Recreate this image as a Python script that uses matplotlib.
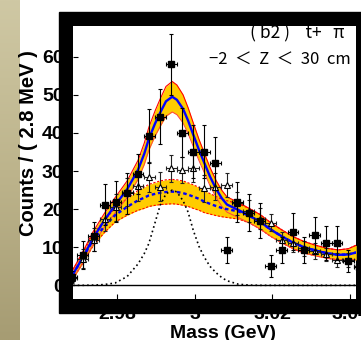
import numpy as np
import matplotlib
matplotlib.use('Agg')
import matplotlib.pyplot as plt
from matplotlib.patches import Rectangle
from matplotlib.colors import LinearSegmentedColormap

plt.rcParams['font.family'] = ['Liberation Sans', 'DejaVu Sans']

# bin centres (GeV), 2.8 MeV bins
mass_bins = [2.9683, 2.9712, 2.9740, 2.9769, 2.9797, 2.9826, 2.9854, 2.9883, 2.9911,
             2.9940, 2.9968, 2.9996, 3.0025, 3.0053, 3.0082, 3.0110, 3.0139, 3.0167,
             3.0196, 3.0224, 3.0253, 3.0281, 3.0309, 3.0338, 3.0366, 3.0395, 3.0423]
bin_half = 0.0014

# filled squares
filled_counts = [2.3, 8.0, 12.9, 21.2, 22.0, 24.2, 29.2, 39.2, 44.3, 58.0, 40.1, 35.1, 35.1,
                 32.0, 9.3, 21.9, 19.1, 17.0, 5.1, 9.3, 14.1, 9.3, 13.2, 11.2, 11.2, 6.4, 4.9]
filled_err = [1.5, 3.7, 3.8, 5.3, 5.3, 5.4, 5.2, 7.2, 7.2, 8.1, 6.5, 7.0, 7.0,
              7.0, 3.5, 5.2, 4.8, 4.6, 2.8, 3.5, 4.8, 3.5, 4.8, 4.5, 4.5, 3.0, 2.6]

# open triangles
open_counts = [1.8, 7.0, 12.0, 17.5, 20.5, 24.5, 26.1, 28.5, 25.9, 30.7, 30.3, 30.7, 25.5,
               25.9, 26.3, 21.5, 19.5, 17.5, 16.4, 11.9, 11.0, 9.7, 9.0, 8.1, 6.6, 6.6, 5.0]
open_err = [1.2, 2.5, 3.0, 3.3, 3.5, 3.8, 4.0, 4.0, 3.8, 3.5, 3.5, 3.5, 3.5,
            3.5, 3.2, 3.0, 3.0, 2.8, 2.2, 2.0, 2.2, 2.0, 2.0, 1.8, 1.8, 1.8, 1.6]

# fit curves
curve_mass = [2.9687, 2.9713, 2.9738, 2.9767, 2.9795, 2.9826, 2.9854, 2.9870, 2.9882,
              2.9898, 2.9911, 2.9926, 2.9942, 2.9954, 2.9970, 2.9983, 2.9996, 3.0011,
              3.0024, 3.0039, 3.0055, 3.0070, 3.0083, 3.0112, 3.0140, 3.0168, 3.0196,
              3.0225, 3.0253, 3.0281, 3.0312, 3.0341, 3.0369, 3.0395, 3.0415]
total_fit = [3.0, 7.5, 12.3, 17.0, 21.0, 25.2, 30.3, 34.5, 38.5, 42.5, 45.3, 48.3, 49.5,
             48.7, 46.3, 43.2, 39.6, 35.5, 32.3, 28.6, 25.3, 22.8, 21.2, 19.8, 18.3, 16.7,
             14.6, 12.8, 11.2, 10.0, 9.1, 8.4, 8.0, 8.1, 8.6]
total_err = [1.2, 1.5, 1.7, 1.8, 2.0, 2.2, 2.5, 2.8, 3.0, 3.3, 3.6, 3.9, 4.0,
             3.9, 3.7, 3.4, 3.1, 2.8, 2.6, 2.4, 2.2, 2.1, 2.0, 2.0, 1.9, 1.9,
             1.8, 1.7, 1.6, 1.5, 1.4, 1.3, 1.3, 1.5, 1.9]
bkg_fit = [3.0, 7.4, 11.8, 15.4, 18.4, 20.6, 22.3, 23.0, 23.6, 24.0, 24.3, 24.5, 24.6,
           24.5, 24.2, 23.8, 23.3, 22.7, 22.0, 21.4, 20.8, 20.3, 20.0, 19.4, 18.3, 16.7,
           14.6, 12.8, 11.2, 10.0, 9.1, 8.4, 8.0, 8.1, 8.6]
bkg_err = [1.2, 1.4, 1.5, 1.6, 1.8, 2.2, 2.6, 2.8, 2.9, 3.0, 3.1, 3.2, 3.2,
           3.2, 3.2, 3.1, 3.1, 3.0, 2.9, 2.7, 2.5, 2.3, 2.2, 2.0, 1.9, 1.9,
           1.8, 1.7, 1.6, 1.5, 1.4, 1.3, 1.3, 1.5, 1.9]
signal_fit = [0, 0, 0.05, 0.2, 0.6, 2.3, 5.6, 8.3, 11.0, 16.5, 21.0, 24.0, 25.0,
              24.5, 22.2, 19.2, 14.5, 10.2, 7.5, 5.0, 3.3, 2.0, 1.2, 0.3, 0.05, 0,
              0, 0, 0, 0, 0, 0, 0, 0, 0]

xticks = [2.98, 3.0, 3.02, 3.04]
xtick_labels = ['2.98', '3', '3.02', '3.04']
yticks = [0, 10, 20, 30, 40, 50, 60]

W, H = 361.0, 340.0


def px_box(x0, y0, x1, y1):
    # pixel box (from top-left) -> figure fraction
    return [x0 / W, 1 - y1 / H, (x1 - x0) / W, (y1 - y0) / H]


fig = plt.figure(figsize=(W / 100, H / 100), dpi=100)

# tan strip on the left
strip = fig.add_axes(px_box(0, 0, 20, 340))
tan = LinearSegmentedColormap.from_list('tan', ['#cfc8a4', '#bdb48c', '#a69c73'])
strip.imshow(np.linspace(0, 1, 200).reshape(-1, 1), aspect='auto', cmap=tan)
strip.axis('off')

# thick black frame
x0, y0, w, h = px_box(59.3, 11.7, 361, 313.3)
fig.patches.append(Rectangle((x0, y0), w, h, transform=fig.transFigure,
                             color='black', zorder=-1))

ax = fig.add_axes(px_box(73.3, 25.5, 356, 299.3))
ax.set_facecolor('white')

m = np.array(curve_mass)
tot = np.array(total_fit)
terr = np.array(total_err)
bkg = np.array(bkg_fit)
berr = np.array(bkg_err)

gold = '#ffcc00'
ax.fill_between(m, bkg - berr, bkg + berr, color=gold, lw=0, zorder=1)
ax.fill_between(m, tot - terr, tot + terr, color=gold, lw=0, zorder=1)
ax.plot(m, bkg + berr, color='red', lw=0.8, dashes=(2, 1.5), zorder=2)
ax.plot(m, bkg - berr, color='red', lw=0.8, dashes=(2, 1.5), zorder=2)
ax.plot(m, tot + terr, color='red', lw=0.8, zorder=2)
ax.plot(m, tot - terr, color='#ff4040', lw=0.7, zorder=2)
ax.plot(m, bkg, color='#0000ff', lw=1.7, dashes=(1.5, 1.2), zorder=3)
ax.plot(m, tot, color='#0000ff', lw=1.7, zorder=3)
ax.plot(m, signal_fit, color='black', lw=1.2, dashes=(1, 1.8), zorder=3)
ax.axhline(0, color='black', lw=1.0, zorder=2)

ax.errorbar(mass_bins, open_counts, xerr=bin_half, yerr=open_err, fmt='^', ms=5,
            mfc='white', mec='black', mew=0.8, ecolor='#222222', elinewidth=0.8,
            capsize=1.5, capthick=0.8, zorder=4)
ax.errorbar(mass_bins, filled_counts, xerr=bin_half, yerr=filled_err, fmt='s', ms=4.2,
            color='black', ecolor='black', elinewidth=0.8, capsize=1.5, capthick=0.8,
            zorder=5)

ax.set_xlim(2.96875, 3.0415)
ax.set_ylim(-3.67, 68.2)
ax.set_xticks(xticks)
ax.set_xticklabels(xtick_labels)
ax.set_yticks(yticks)
ax.tick_params(direction='in', length=3.5, width=0.8, labelsize=14, color='black')
ax.tick_params(axis='x', pad=4.5)
ax.tick_params(axis='y', pad=7)
for lab in ax.get_xticklabels() + ax.get_yticklabels():
    lab.set_fontweight('bold')
for s in ax.spines.values():
    s.set_visible(False)

fig.text(29 / W, 1 - 143 / H, 'Counts / ( 2.8 MeV )', rotation=90, ha='center',
         va='center', fontsize=14.5, fontweight='bold')
fig.text(223 / W, 1 - 338.5 / H, 'Mass (GeV)', ha='center', va='baseline',
         fontsize=14, fontweight='bold')

cjk = ['Noto Sans CJK JP', 'DejaVu Sans']
fig.text(344 / W, 1 - 38.5 / H, '( b2 )    t+   π', ha='right', va='baseline',
         fontsize=12.5, family=cjk)
fig.text(351 / W, 1 - 64 / H, '−2  ＜  Z  ＜  30  cm', ha='right', va='baseline',
         fontsize=12, family=cjk)

fig.savefig('out.png', dpi=100)
